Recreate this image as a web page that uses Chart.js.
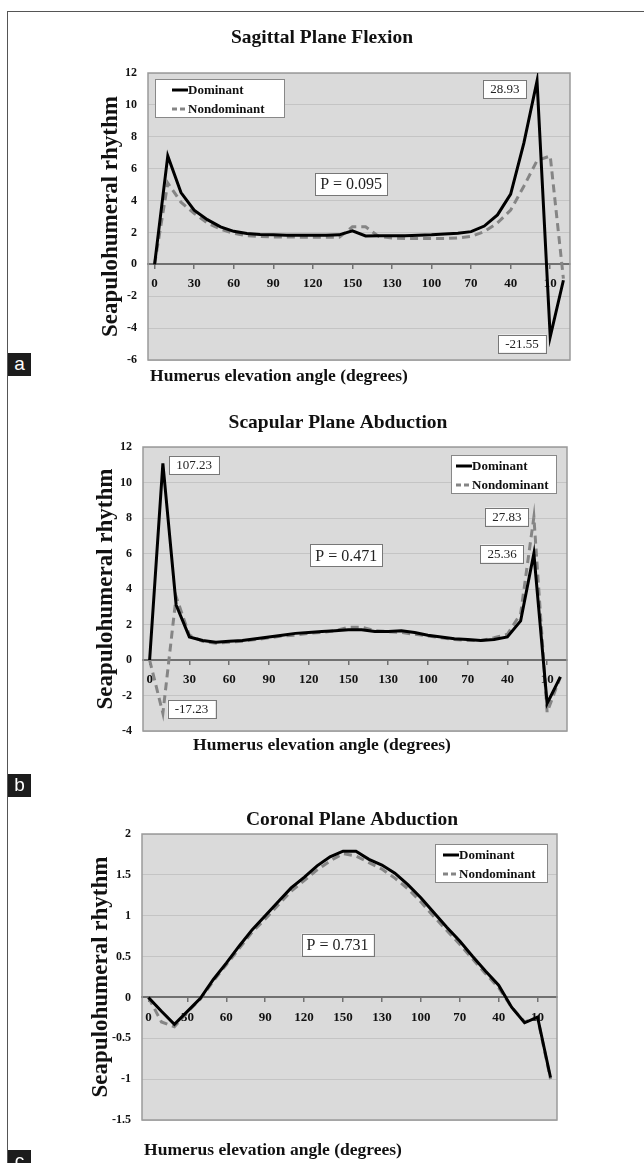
<!DOCTYPE html>
<html><head><meta charset="utf-8">
<script src="https://cdn.jsdelivr.net/npm/chart.js@4.4.1/dist/chart.umd.min.js"></script>
<style>
html,body{margin:0;padding:0;background:#fff;}
body{width:644px;height:1163px;position:relative;overflow:hidden;}
canvas{position:absolute;left:0;}
.frameTop{position:absolute;left:7px;top:11px;width:637px;height:1px;background:#555;}
.frameLeft{position:absolute;left:7px;top:11px;width:1px;height:1152px;background:#555;}
.panel{position:absolute;left:8px;width:23px;height:23px;background:#1c1c1c;color:#fff;font:19px "Liberation Sans",Arial,sans-serif;text-align:center;line-height:21px;}
</style></head><body>
<div class="frameTop"></div><div class="frameLeft"></div>
<canvas id="ca" width="644" height="400" style="top:0px"></canvas>
<canvas id="cb" width="644" height="370" style="top:400px"></canvas>
<canvas id="cc" width="644" height="393" style="top:770px"></canvas>
<div class="panel" style="top:353px">a</div>
<div class="panel" style="top:774px">b</div>
<div class="panel" style="top:1150px">c</div>
<script>
// ---- data ----
const categories = ['0','10','20','30','40','50','60','70','80','90','100','110','120','130','140','150',
                    '150','140','130','120','110','100','90','80','70','60','50','40','30','20','10','0'];
const seriesNames = ['Dominant', 'Nondominant'];

const aDominant    = [0, 6.8, 4.5, 3.4, 2.8, 2.35, 2.07, 1.93, 1.87, 1.85, 1.83, 1.83, 1.82, 1.82, 1.85, 2.1,
                      1.78, 1.8, 1.8, 1.8, 1.82, 1.85, 1.9, 1.95, 2.05, 2.4, 3.1, 4.4, 7.6, 11.5, -4.55, -1.0];
const aNondominant = [0, 5.1, 3.9, 3.2, 2.6, 2.2, 1.95, 1.8, 1.75, 1.72, 1.72, 1.7, 1.7, 1.7, 1.7, 2.35,
                      2.35, 1.75, 1.65, 1.62, 1.62, 1.62, 1.62, 1.65, 1.75, 2.05, 2.6, 3.4, 4.9, 6.5, 6.8, -0.9];

const bDominant    = [0, 11.08, 3.1, 1.3, 1.1, 1.0, 1.05, 1.1, 1.2, 1.3, 1.4, 1.5, 1.55, 1.6, 1.65, 1.7,
                      1.7, 1.6, 1.6, 1.65, 1.55, 1.4, 1.3, 1.2, 1.15, 1.1, 1.15, 1.3, 2.2, 6.0, -2.45, -0.95];
const bNondominant = [0, -3.0, 3.57, 1.4, 1.05, 0.95, 1.0, 1.05, 1.15, 1.25, 1.35, 1.4, 1.5, 1.55, 1.65, 1.85,
                      1.85, 1.65, 1.6, 1.55, 1.45, 1.35, 1.25, 1.15, 1.1, 1.1, 1.25, 1.45, 2.6, 8.05, -2.95, -0.95];

const cDominant    = [0, -0.17, -0.33, -0.17, -0.01, 0.22, 0.42, 0.63, 0.83, 1.0, 1.17, 1.34, 1.47, 1.61, 1.72, 1.79,
                      1.79, 1.69, 1.62, 1.52, 1.38, 1.22, 1.04, 0.86, 0.69, 0.5, 0.32, 0.15, -0.12, -0.31, -0.24, -0.98];
const cNondominant = [0, -0.3, -0.36, -0.18, -0.02, 0.2, 0.4, 0.6, 0.8, 0.96, 1.13, 1.3, 1.43, 1.56, 1.67, 1.76,
                      1.73, 1.65, 1.57, 1.46, 1.33, 1.17, 0.99, 0.82, 0.65, 0.47, 0.29, 0.12, -0.12, -0.3, -0.25, -1.0];

const aTicks = [-6, 12, 2];
const bTicks = [-4, 12, 2];
const cTicks = [-1.5, 2, 0.5];
const tickEvery = 3;

const aTitle = 'Sagittal Plane Flexion';
const bTitle = 'Scapular Plane Abduction';
const cTitle = 'Coronal Plane Abduction';
const yTitle = 'Seapulohumeral rhythm';
const xTitle = 'Humerus elevation angle (degrees)';

// annotation texts with anchor (category index, value)
const aNotes = [['28.93', 26.57, 11.0, 13], ['P = 0.095', 14.9, 5.03, 16], ['-21.55', 27.86, -4.97, 13]];
const bNotes = [['107.23', 3.35, 10.99, 13], ['-17.23', 3.16, -2.76, 13], ['27.83', 26.97, 8.08, 13],
                ['25.36', 26.6, 6.0, 13], ['P = 0.471', 14.84, 5.89, 16]];
const cNotes = [['P = 0.731', 14.58, 0.646, 16]];

// ---- rendering ----
const SERIF = '"Liberation Serif","Times New Roman",serif';

function decor(spec){
  return {
    id: 'decor',
    beforeDraw(chart){
      const {ctx, chartArea: ca} = chart;
      ctx.save();
      ctx.fillStyle = '#dadada';
      ctx.fillRect(ca.left, ca.top, ca.right - ca.left, ca.bottom - ca.top);
      ctx.restore();
    },
    beforeDatasetsDraw(chart){
      const {ctx, chartArea: ca} = chart;
      ctx.save();
      ctx.strokeStyle = '#9a9a9a';
      ctx.lineWidth = 1.5;
      ctx.strokeRect(ca.left, ca.top, ca.right - ca.left, ca.bottom - ca.top);
      ctx.restore();
    },
    afterDatasetsDraw(chart){
      const {ctx, chartArea: ca} = chart;
      const xs = chart.scales.x, ys = chart.scales.y;
      ctx.save();
      // annotations
      spec.notes.forEach(([t, xi, v, fs]) => {
        const px = xs.getPixelForValue(xi), py = ys.getPixelForValue(v);
        ctx.font = fs + 'px ' + SERIF;
        const tw = ctx.measureText(t).width;
        const padX = fs > 14 ? 5 : 7, h = fs > 14 ? 22 : 18;
        const w = tw + 2 * padX;
        ctx.fillStyle = '#fff';
        ctx.fillRect(px - w / 2, py - h / 2, w, h);
        ctx.strokeStyle = '#777'; ctx.lineWidth = 1;
        ctx.strokeRect(Math.round(px - w / 2) + 0.5, Math.round(py - h / 2) + 0.5, Math.round(w), h);
        ctx.fillStyle = '#222'; ctx.textAlign = 'center'; ctx.textBaseline = 'middle';
        ctx.fillText(t, px, py + 1);
      });
      // legend
      const L = spec.legend;
      const lx = L.side === 'left' ? ca.left + L.dx : ca.right - L.dx - L.w;
      const ly = ca.top + L.dy;
      ctx.fillStyle = '#fff';
      ctx.fillRect(lx, ly, L.w, L.h);
      ctx.strokeStyle = '#888'; ctx.lineWidth = 1;
      ctx.strokeRect(Math.round(lx) + 0.5, Math.round(ly) + 0.5, L.w, L.h);
      chart.data.datasets.forEach((ds, i) => {
        const ry = ly + 11 + i * 19;
        ctx.beginPath();
        ctx.strokeStyle = ds.borderColor; ctx.lineWidth = 3;
        ctx.setLineDash(i === 0 ? [] : [5, 3]);
        ctx.moveTo(lx + L.sx, ry); ctx.lineTo(lx + L.sx + 16, ry);
        ctx.stroke();
        ctx.setLineDash([]);
        ctx.font = 'bold 13px ' + SERIF;
        ctx.fillStyle = '#111'; ctx.textAlign = 'left'; ctx.textBaseline = 'middle';
        ctx.fillText(ds.label, lx + L.sx + 16, ry + 1);
      });
      ctx.restore();
    },
    afterDraw(chart){
      const ctx = chart.ctx;
      ctx.save();
      ctx.fillStyle = '#111'; ctx.textAlign = 'center'; ctx.textBaseline = 'middle';
      ctx.font = 'bold 19.5px ' + SERIF;
      ctx.fillText(spec.title, spec.tx, spec.ty);
      ctx.font = 'bold 17.5px ' + SERIF;
      ctx.fillText(xTitle, spec.xx, spec.xy);
      ctx.restore();
    }
  };
}

function make(id, dom, nondom, ticks, spec){
  return new Chart(document.getElementById(id), {
    type: 'line',
    data: {
      labels: categories,
      datasets: [
        {label: seriesNames[0], data: dom, borderColor: '#000', borderWidth: 3, pointRadius: 0, tension: 0, fill: false},
        {label: seriesNames[1], data: nondom, borderColor: '#858585', borderWidth: 3, borderDash: [8, 5], pointRadius: 0, tension: 0, fill: false}
      ]
    },
    options: {
      responsive: false, animation: false, devicePixelRatio: 1,
      layout: {padding: spec.pad},
      plugins: {legend: {display: false}, title: {display: false}, tooltip: {enabled: false}},
      scales: {
        x: {
          type: 'category', offset: true, position: {y: 0},
          afterFit(s){ s.height = 0; },
          border: {display: true, color: '#707070', width: 2},
          grid: {drawOnChartArea: false, drawTicks: true, tickLength: 4, lineWidth: 1.5,
                 color: (c) => (c.index % tickEvery === 0 ? '#707070' : 'rgba(0,0,0,0)')},
          ticks: {autoSkip: false, maxRotation: 0, minRotation: 0, padding: 8, color: '#111',
                  font: {family: SERIF, size: 13, weight: 'bold'},
                  callback: (v, i) => (i % tickEvery === 0 ? categories[i] : '')}
        },
        y: {
          type: 'linear', position: 'left', min: ticks[0], max: ticks[1],
          afterFit(s){ s.width = spec.yw; },
          border: {display: false},
          grid: {color: '#c4c4c4', drawTicks: false, lineWidth: 1},
          ticks: {stepSize: ticks[2], padding: 11, color: '#111', font: {family: SERIF, size: 12, weight: 'bold'},
                  callback: (v) => String(Math.round(v * 100) / 100)},
          title: {display: true, text: yTitle, color: '#111', padding: {top: spec.yt, bottom: 0},
                  font: {family: SERIF, size: 23, weight: 'bold'}}
        }
      }
    },
    plugins: [decor(spec)]
  });
}

make('ca', aDominant, aNondominant, aTicks, {
  title: aTitle, tx: 322, ty: 38, xx: 279, xy: 376,
  pad: {top: 73, bottom: 40, left: 90, right: 74}, yw: 58, yt: 7,
  notes: aNotes, legend: {side: 'left', dx: 7, dy: 6, w: 129, h: 38, sx: 17}
});
make('cb', bDominant, bNondominant, bTicks, {
  title: bTitle, tx: 338, ty: 23, xx: 322, xy: 345,
  pad: {top: 47, bottom: 39, left: 85, right: 77}, yw: 58, yt: 7,
  notes: bNotes, legend: {side: 'right', dx: 11, dy: 8, w: 105, h: 38, sx: 5}
});
make('cc', cDominant, cNondominant, cTicks, {
  title: cTitle, tx: 352, ty: 50, xx: 273, xy: 380,
  pad: {top: 64, bottom: 43, left: 80, right: 87}, yw: 62, yt: 7,
  notes: cNotes, legend: {side: 'right', dx: 10, dy: 10, w: 112, h: 38, sx: 8}
});
</script>
</body></html>
